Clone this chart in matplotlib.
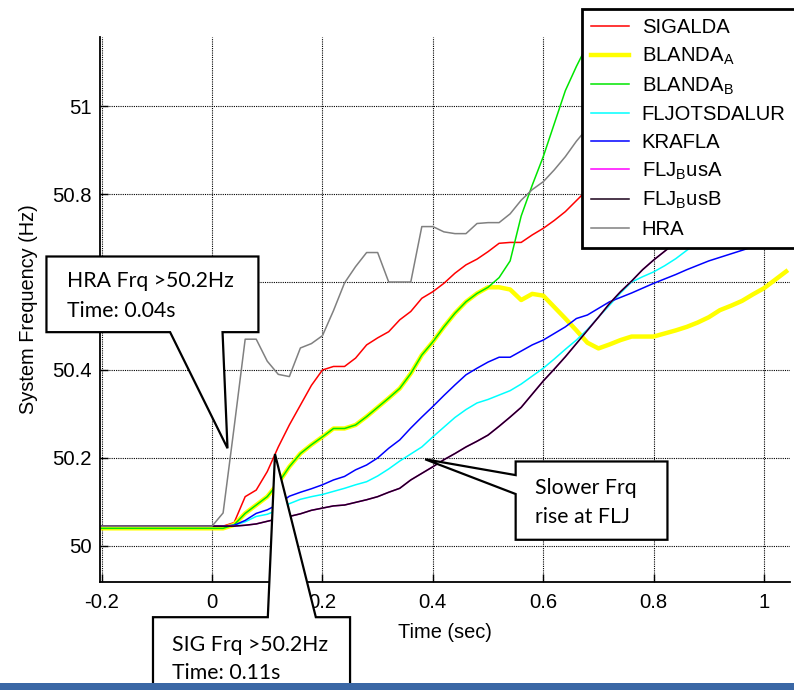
import numpy as np
import matplotlib
matplotlib.use('Agg')
import matplotlib.pyplot as plt
from matplotlib.patches import Polygon, Rectangle

plt.rcParams['font.family'] = ['Liberation Sans', 'DejaVu Sans']
plt.rcParams['mathtext.default'] = 'regular'

# sampling grid (sec)
time = np.round(np.arange(-0.2, 1.05, 0.02), 2)

# frequencies (Hz), one value per 0.02 s
sigalda = [50.045, 50.045, 50.045, 50.045, 50.045, 50.045, 50.045, 50.045, 50.045, 50.045, 50.045,
           50.045, 50.053, 50.112, 50.127, 50.169, 50.225, 50.275, 50.32, 50.365, 50.40,
           50.408, 50.408, 50.427, 50.457, 50.473, 50.487, 50.514, 50.533, 50.563, 50.578,
           50.597, 50.62, 50.639, 50.652, 50.669, 50.688, 50.69, 50.69, 50.707, 50.722,
           50.74, 50.76, 50.785, 50.81, 50.83, 50.85, 50.87, 50.89, 50.91, 50.93,
           50.95, 50.97, 50.99, 51.01, 51.03, 51.05, 51.07, 51.09, 51.11, 51.13,
           51.15, 51.17]
blanda_a = [50.04, 50.04, 50.04, 50.04, 50.04, 50.04, 50.04, 50.04, 50.04, 50.04, 50.04,
            50.04, 50.048, 50.074, 50.093, 50.112, 50.143, 50.18, 50.21, 50.23, 50.248,
            50.267, 50.267, 50.275, 50.294, 50.315, 50.336, 50.358, 50.392, 50.434, 50.464,
            50.498, 50.529, 50.555, 50.574, 50.588, 50.588, 50.583, 50.559, 50.573, 50.569,
            50.543, 50.517, 50.49, 50.462, 50.449, 50.458, 50.468, 50.476, 50.476, 50.476,
            50.483, 50.49, 50.498, 50.508, 50.52, 50.536, 50.546, 50.557, 50.572, 50.586,
            50.605, 50.624]
blanda_b = [50.04, 50.04, 50.04, 50.04, 50.04, 50.04, 50.04, 50.04, 50.04, 50.04, 50.04,
            50.04, 50.048, 50.074, 50.093, 50.112, 50.143, 50.18, 50.21, 50.23, 50.248,
            50.267, 50.267, 50.275, 50.294, 50.315, 50.336, 50.358, 50.392, 50.434, 50.464,
            50.498, 50.529, 50.555, 50.574, 50.588, 50.61, 50.648, 50.75, 50.82, 50.885,
            50.96, 51.035, 51.09, 51.14, 51.19, 51.24, 51.28, 51.32, 51.36, 51.40,
            51.43, 51.46, 51.49, 51.52, 51.55, 51.58, 51.60, 51.62, 51.64, 51.66,
            51.68, 51.70]
fljotsdalur = [50.045, 50.045, 50.045, 50.045, 50.045, 50.045, 50.045, 50.045, 50.045, 50.045, 50.045,
               50.045, 50.047, 50.055, 50.067, 50.072, 50.082, 50.096, 50.106, 50.112, 50.117,
               50.124, 50.131, 50.139, 50.146, 50.159, 50.175, 50.193, 50.209, 50.225, 50.248,
               50.27, 50.292, 50.31, 50.325, 50.333, 50.343, 50.353, 50.368, 50.386, 50.404,
               50.425, 50.447, 50.468, 50.492, 50.52, 50.547, 50.575, 50.60, 50.612, 50.623,
               50.637, 50.653, 50.672, 50.69, 50.71, 50.73, 50.75, 50.77, 50.79, 50.81,
               50.83, 50.85]
krafla = [50.045, 50.045, 50.045, 50.045, 50.045, 50.045, 50.045, 50.045, 50.045, 50.045, 50.045,
          50.045, 50.047, 50.058, 50.074, 50.082, 50.095, 50.113, 50.122, 50.13, 50.139,
          50.15, 50.158, 50.173, 50.184, 50.20, 50.222, 50.241, 50.268, 50.293, 50.317,
          50.342, 50.366, 50.389, 50.404, 50.418, 50.429, 50.429, 50.443, 50.457, 50.468,
          50.483, 50.498, 50.517, 50.525, 50.54, 50.555, 50.565, 50.575, 50.586, 50.597,
          50.607, 50.617, 50.628, 50.638, 50.648, 50.656, 50.664, 50.672, 50.68, 50.69,
          50.70, 50.71]
flj_bus_b = [50.045, 50.045, 50.045, 50.045, 50.045, 50.045, 50.045, 50.045, 50.045, 50.045, 50.045,
             50.045, 50.045, 50.047, 50.05, 50.056, 50.062, 50.067, 50.073, 50.081, 50.086,
             50.091, 50.093, 50.099, 50.105, 50.112, 50.122, 50.131, 50.15, 50.165, 50.18,
             50.196, 50.21, 50.225, 50.238, 50.252, 50.272, 50.293, 50.315, 50.345, 50.375,
             50.402, 50.43, 50.46, 50.49, 50.52, 50.551, 50.578, 50.602, 50.628, 50.65,
             50.67, 50.69, 50.71, 50.73, 50.75, 50.77, 50.79, 50.81, 50.83, 50.85,
             50.87, 50.89]
flj_bus_a = list(flj_bus_b)  # hidden under bus B in the original
hra = [50.045, 50.045, 50.045, 50.045, 50.045, 50.045, 50.045, 50.045, 50.045, 50.045, 50.045,
       50.075, 50.27, 50.47, 50.47, 50.42, 50.39, 50.385, 50.45, 50.46, 50.478,
       50.535, 50.598, 50.635, 50.667, 50.667, 50.60, 50.60, 50.60, 50.726, 50.726,
       50.714, 50.71, 50.71, 50.733, 50.735, 50.735, 50.755, 50.786, 50.81, 50.828,
       50.855, 50.885, 50.92, 50.95, 50.98, 51.0, 51.02, 51.04, 51.06, 51.08,
       51.09, 51.10, 51.11, 51.12, 51.13, 51.14, 51.14, 51.15, 51.15, 51.16,
       51.16, 51.17]

x_ticks = [-0.2, 0, 0.2, 0.4, 0.6, 0.8, 1.0]
x_tick_labels = ['-0.2', '0', '0.2', '0.4', '0.6', '0.8', '1']
y_ticks = [50, 50.2, 50.4, 50.6, 50.8, 51]
y_tick_labels = ['50', '50.2', '50.4', '50.6', '50.8', '51']

fig = plt.figure(figsize=(7.94, 6.90), dpi=100)
ax = fig.add_axes([100 / 794, 1 - 582 / 690, 690 / 794, 545 / 690])

ax.plot(time, sigalda, color='red', lw=1.1, label='SIGALDA')
ax.plot(time, blanda_a, color='yellow', lw=3.2, label='BLANDA$_A$')
ax.plot(time, blanda_b, color='#00e600', lw=1.1, label='BLANDA$_B$')
ax.plot(time, fljotsdalur, color='cyan', lw=1.1, label='FLJOTSDALUR')
ax.plot(time, krafla, color='blue', lw=1.1, label='KRAFLA')
ax.plot(time, flj_bus_a, color='magenta', lw=1.1, label='FLJ$_B$usA')
ax.plot(time, flj_bus_b, color='#1a001a', lw=1.1, label='FLJ$_B$usB')
ax.plot(time, hra, color='gray', lw=1.1, label='HRA')

ax.set_xlim(-0.203, 1.047)
ax.set_ylim(49.918, 51.157)
ax.set_xticks(x_ticks)
ax.set_xticklabels(x_tick_labels)
ax.set_yticks(y_ticks)
ax.set_yticklabels(y_tick_labels)
ax.tick_params(direction='in', length=6, width=1, labelsize=14.6, pad=6)
ax.tick_params(axis='x', pad=8)
ax.grid(True, color='black', linestyle=(0, (1, 1)), linewidth=0.8)
for s in ['top', 'right']:
    ax.spines[s].set_visible(False)
for s in ['left', 'bottom']:
    ax.spines[s].set_linewidth(1.3)
ax.set_xlabel('Time (sec)', fontsize=14.4, labelpad=8)
ax.set_ylabel('System Frequency (Hz)', fontsize=14.4, labelpad=10)

leg = ax.legend(loc='upper left', bbox_to_anchor=(582 / 794, 1 - 9 / 690),
                bbox_transform=fig.transFigure, fontsize=14.6, frameon=True,
                fancybox=False, framealpha=1, edgecolor='black', borderaxespad=0,
                handlelength=1.85, handletextpad=0.65, borderpad=0.45, labelspacing=0.42)
leg.get_frame().set_linewidth(2.0)

# callouts
callouts = [
    ([(-0.300, 50.658), (0.084, 50.658), (0.084, 50.486), (0.019, 50.486),
      (0.028, 50.222), (-0.076, 50.486), (-0.300, 50.486)],
     -0.263, [50.588, 50.521], ['HRA Frq >50.2Hz', 'Time: 0.04s']),
    ([(-0.107, 49.60), (-0.107, 49.838), (0.101, 49.838), (0.114, 50.209),
      (0.188, 49.838), (0.250, 49.838), (0.250, 49.60)],
     -0.072, [49.762, 49.697], ['SIG Frq >50.2Hz', 'Time: 0.11s']),
    ([(0.550, 50.192), (0.825, 50.192), (0.825, 50.014), (0.550, 50.014),
      (0.550, 50.118), (0.386, 50.197), (0.550, 50.161)],
     0.585, [50.118, 50.053], ['Slower Frq', 'rise at FLJ']),
]
for pts, tx, tys, lines in callouts:
    ax.add_patch(Polygon(pts, closed=True, facecolor='white', edgecolor='black',
                         lw=1.6, joinstyle='miter', clip_on=False, zorder=6))
    for ty, s in zip(tys, lines):
        ax.text(tx, ty, s, fontsize=15.3, family='Lato', va='baseline',
                ha='left', zorder=7, clip_on=False)

fig.add_artist(Rectangle((0, 0), 1, 7 / 690, transform=fig.transFigure,
                         facecolor='#3a67a5', edgecolor='none', zorder=20))

fig.savefig('out.png', dpi=100)
